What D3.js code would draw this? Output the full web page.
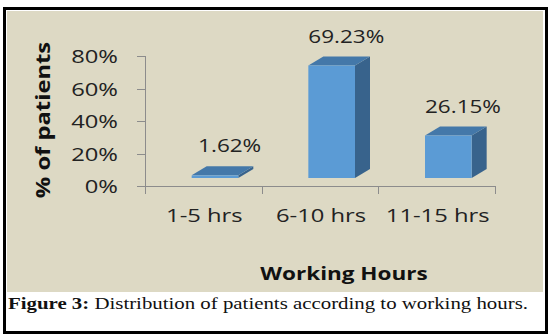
<!DOCTYPE html>
<html>
<head>
<meta charset="utf-8">
<script src="https://cdn.jsdelivr.net/npm/d3@7"></script>
<style>
  body { margin: 0; background: #fff; }
  svg { display: block; }
</style>
</head>
<body>
<div id="chart"></div>
<script>
// data
var categories = ["1-5 hrs", "6-10 hrs", "11-15 hrs"];
var values = [1.62, 69.23, 26.15];
var valueLabels = ["1.62%", "69.23%", "26.15%"];
var yTicks = [0, 20, 40, 60, 80];

var w = 556, h = 335;
var stretch = 1.25; // text in the picture is widened

var svg = d3.select("#chart").append("svg")
  .attr("width", w)
  .attr("height", h);

// frame + chart area
svg.append("rect")
  .attr("x", 4.5).attr("y", 8.5)
  .attr("width", 542).attr("height", 324)
  .attr("fill", "#fff")
  .attr("stroke", "#000")
  .attr("stroke-width", 3);
svg.append("rect")
  .attr("x", 7).attr("y", 11)
  .attr("width", 536).attr("height", 281)
  .attr("fill", "#DDD9C4");

var y = d3.scaleLinear().domain([0, 80]).range([186, 56]);
var x = d3.scaleBand().domain(categories).range([145, 495]);
var bw = x.bandwidth();
var dx = 15, dy = 9, lift = 8;

function widen(sel) {
  sel.each(function() {
    var len = this.getComputedTextLength();
    d3.select(this).attr("textLength", len * stretch).attr("lengthAdjust", "spacingAndGlyphs");
  });
}

// axes
var axisCol = "#8C8C8C";
svg.append("line")
  .attr("x1", 145.5).attr("x2", 145.5)
  .attr("y1", y(80)).attr("y2", y(0) + 8)
  .attr("stroke", axisCol);
svg.append("line")
  .attr("x1", 137).attr("x2", 495)
  .attr("y1", y(0) + 0.5).attr("y2", y(0) + 0.5)
  .attr("stroke", axisCol);
svg.selectAll(".ytick").data(yTicks).enter().append("line")
  .attr("class", "ytick")
  .attr("x1", 137).attr("x2", 145)
  .attr("y1", function(d) { return Math.round(y(d)) + 0.5; })
  .attr("y2", function(d) { return Math.round(y(d)) + 0.5; })
  .attr("stroke", axisCol);
var bounds = categories.map(function(c) { return x(c); }).concat([x.range()[1]]);
svg.selectAll(".xtick").data(bounds).enter().append("line")
  .attr("class", "xtick")
  .attr("x1", function(d) { return Math.round(d) + 0.5; })
  .attr("x2", function(d) { return Math.round(d) + 0.5; })
  .attr("y1", y(0)).attr("y2", y(0) + 8)
  .attr("stroke", axisCol);

var font = "'Open Sans', sans-serif";

svg.selectAll(".ylab").data(yTicks).enter().append("text")
  .attr("class", "ylab")
  .attr("x", 118)
  .attr("y", function(d) { return y(d) + 7; })
  .attr("text-anchor", "end")
  .attr("font-family", font)
  .attr("font-size", 19)
  .attr("fill", "#222")
  .text(function(d) { return d + "%"; })
  .call(widen);

svg.selectAll(".xlab").data(categories).enter().append("text")
  .attr("class", "xlab")
  .attr("x", function(d) { return x(d) + bw / 2 + 1; })
  .attr("y", 222)
  .attr("text-anchor", "middle")
  .attr("font-family", font)
  .attr("font-size", 19)
  .attr("fill", "#222")
  .text(function(d) { return d; })
  .call(widen);

// bars: front, side, top
var bars = svg.selectAll(".bar").data(values).enter().append("g").attr("class", "bar");
function fx(i) { return x(categories[i]) + bw * 0.4; }
var fw = bw * 0.4;
bars.append("path")
  .attr("fill", "#38638C")
  .attr("d", function(d, i) {
    var l = fx(i) + fw, t = y(d) - lift, b = y(0) - lift;
    return "M" + l + "," + b + "L" + l + "," + t + "L" + (l + dx) + "," + (t - dy) +
      "L" + (l + dx) + "," + (b - dy) + "Z";
  });
bars.append("path")
  .attr("fill", "#4478A9")
  .attr("d", function(d, i) {
    var l = fx(i), t = y(d) - lift;
    return "M" + l + "," + t + "L" + (l + fw) + "," + t + "L" + (l + fw + dx) + "," + (t - dy) +
      "L" + (l + dx) + "," + (t - dy) + "Z";
  });
bars.append("rect")
  .attr("fill", "#5B9BD5")
  .attr("x", function(d, i) { return fx(i); })
  .attr("y", function(d) { return y(d) - lift; })
  .attr("width", fw)
  .attr("height", function(d) { return y(0) - y(d); });

svg.selectAll(".vlab").data(values).enter().append("text")
  .attr("class", "vlab")
  .attr("x", function(d, i) { return fx(i) + 38; })
  .attr("y", function(d) { return y(d) - lift - 23; })
  .attr("text-anchor", "middle")
  .attr("font-family", font)
  .attr("font-size", 18)
  .attr("fill", "#222")
  .text(function(d, i) { return valueLabels[i]; })
  .call(widen);

// axis titles
svg.append("text")
  .attr("transform", "translate(50,120) rotate(-90)")
  .attr("text-anchor", "middle")
  .attr("font-family", font)
  .attr("font-weight", "bold")
  .attr("font-size", 19)
  .attr("fill", "#111")
  .text("% of patients")
  .call(widen);

svg.append("text")
  .attr("x", 344)
  .attr("y", 280)
  .attr("text-anchor", "middle")
  .attr("font-family", font)
  .attr("font-weight", "bold")
  .attr("font-size", 18)
  .attr("fill", "#111")
  .text("Working Hours")
  .call(widen);

// caption
var cap = svg.append("text")
  .attr("x", 8)
  .attr("y", 309)
  .attr("font-family", "'Liberation Serif', serif")
  .attr("font-size", 16)
  .attr("fill", "#111")
  .attr("textLength", 520)
  .attr("lengthAdjust", "spacingAndGlyphs");
cap.append("tspan").attr("font-weight", "bold").text("Figure 3:");
cap.append("tspan").text(" Distribution of patients according to working hours.");
</script>
</body>
</html>
